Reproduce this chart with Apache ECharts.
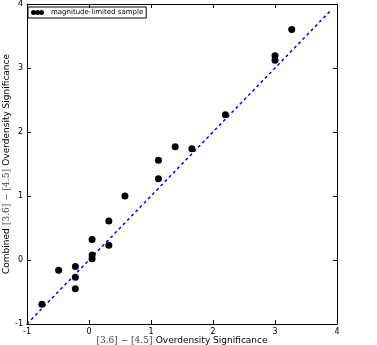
<!DOCTYPE html>
<html>
<head>
<meta charset="utf-8">
<script src="https://cdn.jsdelivr.net/npm/echarts@6/dist/echarts.min.js"></script>
<style>
html,body{margin:0;padding:0;background:#fff;}
#chart{width:377px;height:345px;}
</style>
</head>
<body>
<div id="chart"></div>
<script>
// 数据
var sampleX = [-0.76, -0.49, -0.22, -0.22, -0.22, 0.05, 0.05, 0.05, 0.32, 0.32, 0.58, 1.12, 1.12, 1.39, 1.66, 2.20, 3.00, 3.00, 3.27];
var sampleY = [-0.69, -0.16, -0.10, -0.27, -0.45, 0.32, 0.08, 0.02, 0.61, 0.23, 1.00, 1.27, 1.56, 1.77, 1.74, 2.27, 3.19, 3.12, 3.60];
var oneToOne = [-1, 3.9];
var tickValues = [-1, 0, 1, 2, 3, 4];

(function(){
	var myChart = echarts.init(document.getElementById('chart'));
	var pts = sampleX.map(function(x, i){ return [x, sampleY[i]]; });
	var linePts = oneToOne.map(function(v){ return [v, v]; });

	function axisBase(pos, show){
		return {
			type: 'value',
			position: pos,
			min: tickValues[0],
			max: tickValues[tickValues.length - 1],
			interval: 1,
			axisLine: { show: true, onZero: false, lineStyle: { color: '#000', width: 1 } },
			axisTick: { show: true, inside: true, length: 4, lineStyle: { color: '#000' } },
			axisLabel: {
				show: show,
				color: '#000',
				fontSize: 8,
				fontFamily: 'DejaVu Sans',
				margin: 4
			},
			splitLine: { show: false }
		};
	}

	var nameStyle = {
		rich: {
			m: { fontFamily: 'DejaVu Serif', fontSize: 9, color: '#444' },
			s: { fontFamily: 'DejaVu Sans', fontSize: 9, color: '#000' }
		}
	};

	var xBottom = axisBase('bottom', true);
	xBottom.name = '{m|[3.6] \u2212 [4.5]} {s|Overdensity Significance}';
	xBottom.nameLocation = 'middle';
	xBottom.nameGap = 11;
	xBottom.nameMoveOverlap = false;
	xBottom.nameTextStyle = nameStyle;
	var xTop = axisBase('top', false);

	var yLeft = axisBase('left', true);
	yLeft.name = '{s|Combined} {m|[3.6] \u2212 [4.5]} {s|Overdensity Significance}';
	yLeft.nameLocation = 'middle';
	yLeft.nameGap = 14;
	yLeft.nameRotate = 90;
	yLeft.nameMoveOverlap = false;
	yLeft.nameTextStyle = nameStyle;
	var yRight = axisBase('right', false);

	var option = {
		animation: false,
		grid: { left: 27, top: 4, width: 310, height: 320, outerBoundsMode: 'none', containLabel: false },
		legend: {
			left: 28,
			top: 7,
			padding: [2, 3, 2, 3],
			itemGap: 0,
			itemWidth: 13,
			itemHeight: 5,
			borderColor: '#000',
			borderWidth: 1,
			borderRadius: 0,
			textStyle: { color: '#000', fontSize: 7, fontFamily: 'DejaVu Sans', padding: [0, 0, 0, 2] },
			data: [{
				name: 'magnitude-limited sample',
				icon: 'path://M0,2.5A2.5,2.5,0,1,0,5,2.5A2.5,2.5,0,1,0,0,2.5ZM4,2.5A2.5,2.5,0,1,0,9,2.5A2.5,2.5,0,1,0,4,2.5ZM8,2.5A2.5,2.5,0,1,0,13,2.5A2.5,2.5,0,1,0,8,2.5Z'
			}]
		},
		xAxis: [xBottom, xTop],
		yAxis: [yLeft, yRight],
		series: [
			{
				name: '1:1',
				type: 'line',
				data: linePts,
				symbol: 'none',
				lineStyle: { color: '#0000ff', width: 1.5, type: [3, 3] },
				z: 2
			},
			{
				name: 'magnitude-limited sample',
				type: 'scatter',
				data: pts,
				symbol: 'circle',
				symbolSize: 7,
				itemStyle: { color: '#000', opacity: 1 },
				z: 3
			}
		]
	};
	myChart.setOption(option);
	window.addEventListener('resize', function(){
		myChart.resize();
	});
})();
</script>
</body>
</html>
